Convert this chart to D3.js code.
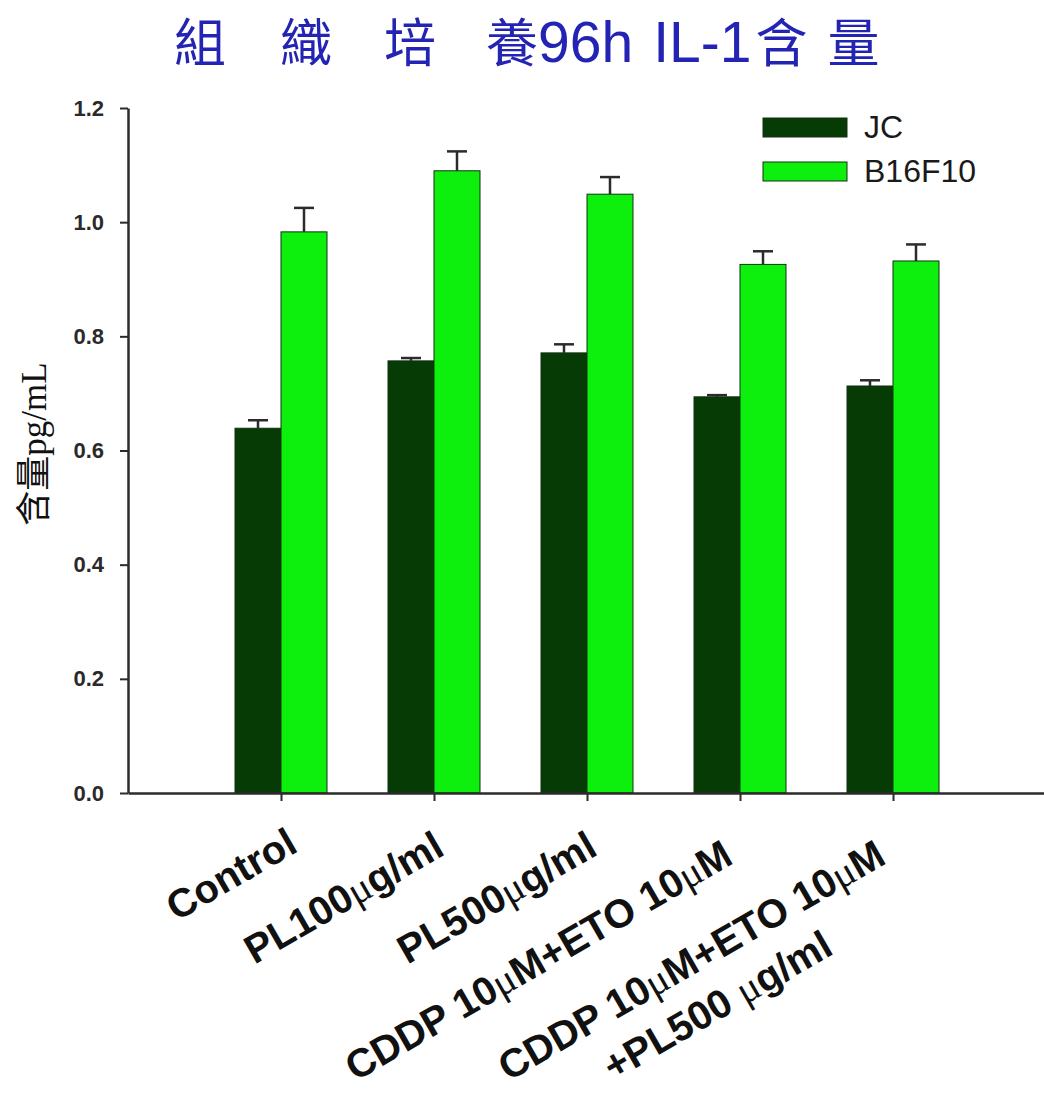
<!DOCTYPE html>
<html>
<head>
<meta charset="utf-8">
<script src="https://cdn.jsdelivr.net/npm/d3@7"></script>
<style>
  html, body { margin: 0; padding: 0; background: #fff; }
  svg { display: block; }
</style>
</head>
<body>
<svg id="chart" width="1044" height="1095"></svg>
<script>
// Treatment groups (label lines) and series
const categories = [
  ["Control"],
  ["PL100μg/ml"],
  ["PL500μg/ml"],
  ["CDDP 10μM+ETO 10μM"],
  ["CDDP 10μM+ETO 10μM", "+PL500 μg/ml"]
];
const seriesNames = ["JC", "B16F10"];
const jcValues = [0.639, 0.757, 0.771, 0.694, 0.713];
const jcErrors = [0.014, 0.005, 0.015, 0.003, 0.010];
const b16Values = [0.983, 1.090, 1.049, 0.926, 0.932];
const b16Errors = [0.042, 0.034, 0.030, 0.023, 0.029];
const yTicks = [0, 0.2, 0.4, 0.6, 0.8, 1.0, 1.2];

const colors = { JC: "#063b06", B16F10: "#0df00d" };
const svg = d3.select("#chart");

const plotLeft = 128, plotBottom = 793, plotTop = 108, plotRight = 1046;
const keys = categories.map((c, i) => "g" + i);

const x = d3.scalePoint().domain(keys).range([plotLeft, plotRight]).padding(1);
const xs = d3.scaleBand().domain(seriesNames).range([-46, 46]);
const y = d3.scaleLinear().domain([0, 1.2]).range([plotBottom, plotTop]);

const rows = keys.map((k, i) => ({
  key: k,
  JC: { v: jcValues[i], e: jcErrors[i] },
  B16F10: { v: b16Values[i], e: b16Errors[i] }
}));

// Title: widely spaced CJK characters with a larger Latin run
const title = svg.append("text")
  .attr("x", 174).attr("y", 62)
  .attr("font-family", "'Liberation Sans', 'Noto Sans CJK TC', sans-serif")
  .attr("fill", "#2424b4");
const titleParts = [
  { t: "組", dx: 0, fs: 52 },
  { t: "織", dx: 54, fs: 52 },
  { t: "培", dx: 52, fs: 52 },
  { t: "養", dx: 50, fs: 52 },
  { t: "96h", dx: 0, fs: 57 },
  { t: "IL-1", dx: 20, fs: 57 },
  { t: "含", dx: 4, fs: 52 },
  { t: "量", dx: 20, fs: 52 }
];
titleParts.forEach(p => title.append("tspan").attr("dx", p.dx).attr("font-size", p.fs).text(p.t));

// Bars
const groups = svg.append("g").selectAll("g").data(rows).join("g")
  .attr("transform", d => `translate(${x(d.key)},0)`);

groups.selectAll("rect").data(d => seriesNames.map(s => ({ s, ...d[s] }))).join("rect")
  .attr("x", d => xs(d.s))
  .attr("width", xs.bandwidth())
  .attr("y", d => y(d.v))
  .attr("height", d => y(0) - y(d.v))
  .attr("fill", d => colors[d.s])
  .attr("stroke", "#123012")
  .attr("stroke-width", 1);

// Upper error bars
const eb = groups.selectAll("g.err").data(d => seriesNames.map(s => ({ s, ...d[s] }))).join("g")
  .attr("class", "err")
  .attr("stroke", "#2b2b2b")
  .attr("stroke-width", 2.5);
eb.append("line")
  .attr("x1", d => xs(d.s) + xs.bandwidth() / 2)
  .attr("x2", d => xs(d.s) + xs.bandwidth() / 2)
  .attr("y1", d => y(d.v))
  .attr("y2", d => y(d.v + d.e));
eb.append("line")
  .attr("x1", d => xs(d.s) + xs.bandwidth() / 2 - 10)
  .attr("x2", d => xs(d.s) + xs.bandwidth() / 2 + 10)
  .attr("y1", d => y(d.v + d.e))
  .attr("y2", d => y(d.v + d.e));

// Y axis
const yAxis = svg.append("g")
  .attr("transform", `translate(${plotLeft},0)`)
  .call(d3.axisLeft(y).tickValues(yTicks).tickFormat(d3.format(".1f")).tickSize(8).tickSizeOuter(0).tickPadding(16));
yAxis.select(".domain").attr("stroke", "#2b2b2b").attr("stroke-width", 2.5);
yAxis.selectAll(".tick line").attr("stroke", "#2b2b2b").attr("stroke-width", 2);
yAxis.selectAll(".tick text")
  .attr("font-family", "'Liberation Sans', Arial, sans-serif")
  .attr("font-weight", "bold")
  .attr("font-size", 22)
  .attr("fill", "#2a2a2a");

// X axis
const xAxis = svg.append("g")
  .attr("transform", `translate(0,${plotBottom})`)
  .call(d3.axisBottom(x).tickSize(8).tickSizeOuter(0).tickFormat(""));
xAxis.select(".domain").attr("stroke", "#2b2b2b").attr("stroke-width", 2.5);
xAxis.selectAll(".tick line").attr("stroke", "#2b2b2b").attr("stroke-width", 2);

// Rotated category labels; multi-line labels are centred on their longest line
const labelFont = 40, angle = -30, lineGap = 52;
rows.forEach((d, i) => {
  const lines = categories[i];
  const g = svg.append("g");
  const t = g.append("text")
    .attr("font-family", "'Liberation Sans', Arial, sans-serif")
    .attr("font-weight", "bold")
    .attr("font-size", labelFont)
    .attr("fill", "#111");
  const tspans = lines.map((line, li) => {
    const ts = t.append("tspan").attr("x", 0).attr("y", li * lineGap);
    line.split(/(μ)/).forEach(part => {
      if (!part) return;
      const p = ts.append("tspan").text(part);
      if (part === "μ") p.attr("font-family", "'Liberation Serif', serif").attr("font-weight", "normal");
    });
    return ts;
  });
  const widths = tspans.map(ts => ts.node().getComputedTextLength());
  const w = d3.max(widths);
  tspans.forEach((ts, li) => ts.attr("x", -w / 2 - widths[li] / 2));
  const ex = x(d.key) + 30 - 0.08 * w;
  const ey = plotBottom + 52 + 0.04 * w;
  g.attr("transform", `translate(${ex},${ey}) rotate(${angle})`);
});

// Y axis title
svg.append("text")
  .attr("transform", `translate(46,444) rotate(-90)`)
  .attr("text-anchor", "middle")
  .attr("font-family", "'Liberation Serif', 'Noto Sans CJK TC', serif")
  .attr("font-size", 35)
  .attr("fill", "#111")
  .text("含量pg/mL");

// Legend
const legend = svg.append("g").selectAll("g").data(seriesNames).join("g")
  .attr("transform", (d, i) => `translate(763,${118 + i * 44})`);
legend.append("rect")
  .attr("width", 84).attr("height", 19)
  .attr("fill", d => colors[d])
  .attr("stroke", "#123012").attr("stroke-width", 1);
legend.append("text")
  .attr("x", 101).attr("y", 20)
  .attr("font-family", "'Liberation Sans', Arial, sans-serif")
  .attr("font-size", 32)
  .attr("fill", "#1a1a1a")
  .text(d => d);
</script>
</body>
</html>
